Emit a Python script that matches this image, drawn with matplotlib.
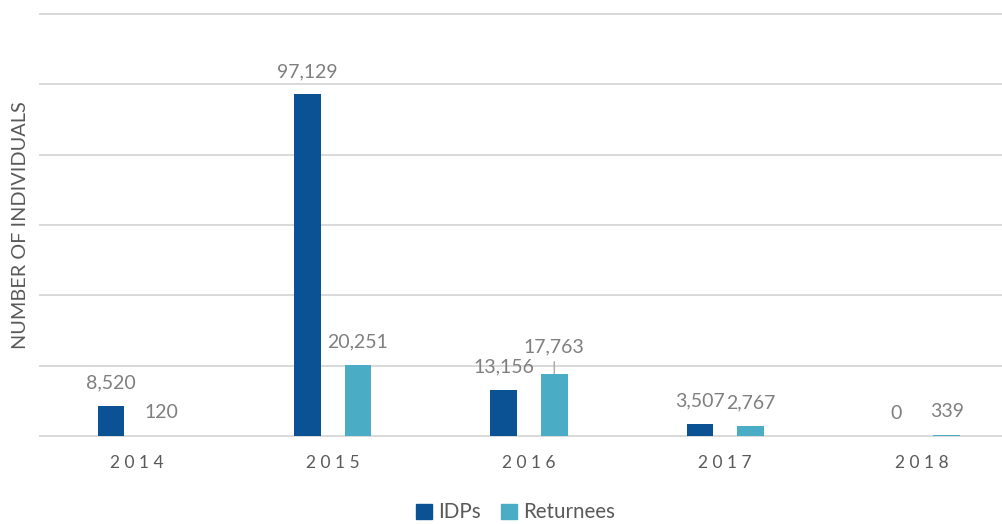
import numpy as np
import matplotlib
matplotlib.use('Agg')
import matplotlib.pyplot as plt
from matplotlib.patches import Patch

years = ['2014', '2015', '2016', '2017', '2018']
idps = [8520, 97129, 13156, 3507, 0]
returnees = [120, 20251, 17763, 2767, 339]
series_names = ['IDPs', 'Returnees']
y_label = 'NUMBER OF INDIVIDUALS'

blue_dark = '#0A5294'
blue_light = '#4BACC6'
label_grey = '#7F7F7F'
text_grey = '#595959'
grid_grey = '#D9D9D9'

plt.rcParams['font.family'] = ['Lato', 'DejaVu Sans']

fig = plt.figure(figsize=(10.03, 5.24), dpi=100)
ax = fig.add_axes([40/1003, 1-436/524, 1-40/1003, (436-14)/524])

x = np.arange(len(years))
off = 0.129
w = 0.135
series = [idps, returnees]
colors = [blue_dark, blue_light]

for gy in range(0, 120001, 20000):
    ax.axhline(gy, color=grid_grey, lw=1.4, zorder=0, clip_on=False)

for k, (vals, col) in enumerate(zip(series, colors)):
    xs = x + (2*k - 1) * off
    ax.bar(xs, vals, width=w, color=col, zorder=2)
    for i, (xi, v) in enumerate(zip(xs, vals)):
        lift = 16.5
        if k == 1 and i == 2:
            # this label was moved up, with a leader line
            lift = 19.5
            ax.annotate('', xy=(xi, v), xytext=(0, 8.5), textcoords='offset points',
                        arrowprops=dict(arrowstyle='-', color='#A6A6A6', lw=1,
                                        shrinkA=0, shrinkB=0))
        ax.annotate(f'{v:,}', xy=(xi, v), xytext=(0, lift), textcoords='offset points',
                    ha='center', va='center', fontsize=14, color=label_grey)

ax.set_xlim(-0.492, 4.416)
ax.set_ylim(0, 120000)
ax.set_xticks(x)
ax.set_xticklabels([' '.join(y) for y in years], fontsize=12.5, color=text_grey)
ax.set_yticks([])
ax.tick_params(axis='x', length=0, pad=14)
for s in ax.spines.values():
    s.set_visible(False)

ax.set_ylabel(y_label, fontsize=14.3, color=text_grey, labelpad=8)

handles = [Patch(color=c, label=n) for c, n in zip(colors, series_names)]
fig.legend(handles=handles, loc='lower center', bbox_to_anchor=(0.514, -0.032), ncol=2,
           frameon=False, fontsize=14.8, handlelength=0.75, handleheight=0.75,
           handletextpad=0.3, columnspacing=1.0, labelcolor=text_grey)

plt.savefig('out.png', dpi=100)
